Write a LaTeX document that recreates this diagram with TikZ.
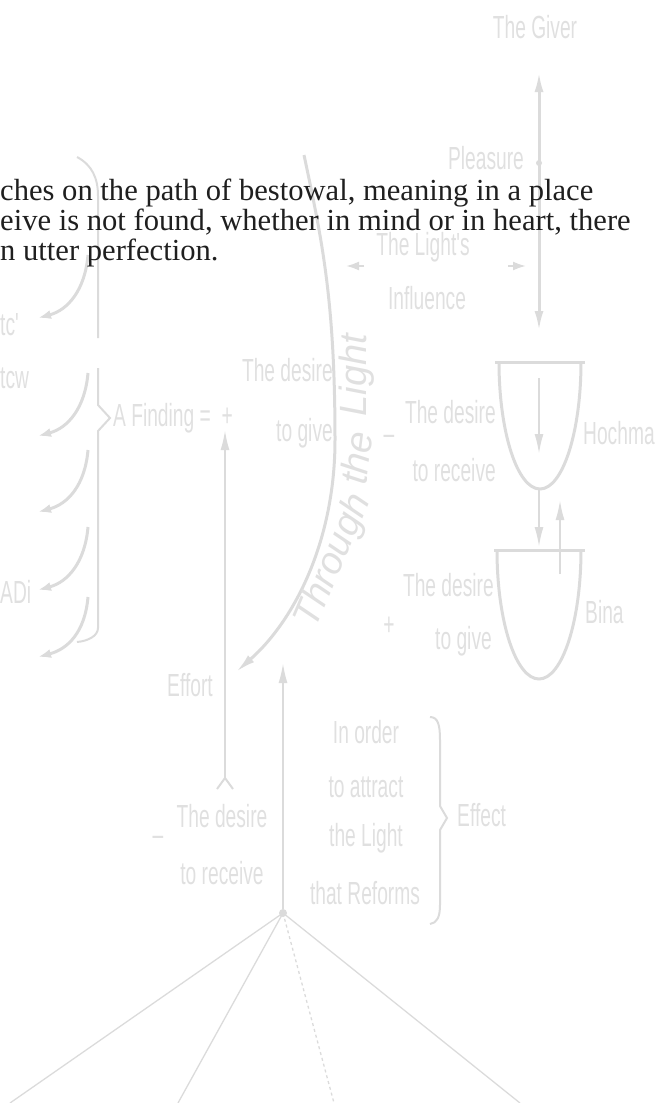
\documentclass[tikz,border=0pt]{standalone}
\usepackage{fontspec}
\newfontfamily\narrowsf[FakeStretch=0.6]{Liberation Sans}
\newfontfamily\plainsf{Liberation Sans}
\newfontfamily\bookfont{Liberation Serif}
\usetikzlibrary{arrows.meta}
\definecolor{faintline}{gray}{0.86}
\definecolor{fainttext}{gray}{0.88}

\begin{document}
\begin{tikzpicture}[x=1pt,y=-1pt,>={Latex[length=20pt,width=9pt]}]

    \tikzset{
      label/.style={
        text=fainttext,
        font=\narrowsf\fontsize{32}{32}\selectfont,
        inner sep=0pt,
      },
      slanted/.style={
        text=fainttext,
        font=\plainsf\itshape\fontsize{38}{38}\selectfont,
        inner sep=0pt,
      },
      para/.style={
        text=black!88,
        font=\bookfont\fontsize{30.6}{31}\selectfont,
        inner sep=0pt,
        anchor=base west,
      },
      bold line/.style={color=faintline,line width=3pt},
      mid line/.style={color=faintline,line width=2pt},
      thin line/.style={color=faintline,line width=1.3pt},
      small tip/.style={>={Latex[length=13pt,width=9pt]}},
      dot/.style={circle,fill=faintline,inner sep=0pt,minimum size=6pt},
    }

	\useasboundingbox (0,0) rectangle (663,1103);

	% the giver and the light coming down
	\node[label] (giver) at (535,27) {The Giver};
	\coordinate (colTop) at (539,72);
	\coordinate (colBot) at (539,331);
	\draw[bold line,<->] (colBot) -- (colTop);
	\node[label] (pleasure) at (486,158) {Pleasure};
	\node[dot] (pdot) at (539,163) {};

	\node[label] (lights) at (423,247) {The Light's};
	\node[label] (influence) at (427,298) {Influence};
	\coordinate (infLs) at (364,266);
	\coordinate (infL) at (346,266);
	\coordinate (infRs) at (508,266);
	\coordinate (infR) at (526,266);
	\draw[mid line,small tip,->] (infLs) -- (infL);
	\draw[mid line,small tip,->] (infRs) -- (infR);

	% hochma
	\draw[bold line] (495,362) -- (585,362);
	\draw[bold line] (499,362) arc[start angle=180,end angle=0,x radius=41,y radius=127];
	\node[label,anchor=east] (recvA) at (496,412) {The desire};
	\node[label,anchor=east] (recvB) at (496,470) {to receive};
	\node[label] (minusA) at (389,440) {–};
	\node[label,anchor=west] (hochma) at (583,433) {Hochma};
	\coordinate (inA) at (539,378);
	\coordinate (inB) at (539,454);
	\draw[mid line,->] (inA) -- (inB);

	% bina
	\draw[bold line] (494,550) -- (585,550);
	\draw[bold line] (497,550) arc[start angle=180,end angle=0,x radius=42,y radius=129];
	\node[label,anchor=east] (giveA) at (494,585) {The desire};
	\node[label,anchor=east] (giveB) at (492,641) {to give};
	\node[label] (plusA) at (389,626) {+};
	\node[label,anchor=west] (bina) at (585,612) {Bina};
	\coordinate (downA) at (539,490);
	\coordinate (downB) at (539,547);
	\coordinate (upA) at (560,574);
	\coordinate (upB) at (560,500);
	\draw[mid line,->] (downA) -- (downB);
	\draw[mid line,->] (upA) -- (upB);

	% through the light
	\coordinate (lightTop) at (304,155);
	\coordinate (lightMid) at (335,440);
	\coordinate (effortTip) at (236,672);
	\draw[bold line,->] (lightTop) .. controls (322,240) and (335,300) .. (lightMid)
	   .. controls (335,540) and (295,620) .. (effortTip);
	\node[slanted,rotate=67] (through) at (334,561) {Through};
	\node[slanted,rotate=83] (the) at (356,458) {the};
	\node[slanted,rotate=90] (light) at (357,375) {Light};

	\node[label,anchor=east] (midA) at (333,370) {The desire};
	\node[label,anchor=east] (midB) at (333,433) {to give};
	\node[label,anchor=west] (finding) at (113,418) {A Finding =\ \ +};
	\node[label] (effort) at (190,685) {Effort};

	% effort and effect
	\coordinate (effortBase) at (225,778);
	\coordinate (effortHead) at (225,430);
	\coordinate (baseL) at (217,789);
	\coordinate (baseR) at (233,789);
	\draw[mid line,->] (effortBase) -- (effortHead);
	\draw[mid line] (baseL) -- (effortBase) -- (baseR);
	\node[label] (recvC) at (222,816) {The desire};
	\node[label] (recvD) at (222,873) {to receive};
	\node[label] (minusB) at (158,841) {–};

	\node[dot,minimum size=8pt] (root) at (283,913) {};
	\coordinate (effectTip) at (283,663);
	\draw[mid line,->] (root) -- (effectTip);
	\coordinate (leafA) at (10,1103);
	\coordinate (leafB) at (178,1103);
	\coordinate (leafC) at (334,1103);
	\coordinate (leafD) at (520,1103);
	\foreach \leaf in {leafA,leafB,leafD}
	    \draw[thin line] (root.center) -- (\leaf);
	\draw[thin line,dashed] (root.center) -- (leafC);

	\node[label] (orderA) at (366,732) {In order};
	\node[label] (orderB) at (366,787) {to attract};
	\node[label] (orderC) at (366,838) {the Light};
	\node[label] (orderD) at (365,893) {that Reforms};
	\draw[mid line] (430,717) .. controls (438,717) and (440,725) .. (440,740) -- (440,806)
	   -- (447,818) -- (440,830) -- (440,905) .. controls (440,917) and (437,923) .. (430,924);
	\node[label,anchor=west] (effect) at (457,815) {Effect};

	% left side
	\draw[mid line] (77,157) .. controls (92,165) and (98,178) .. (98,196) -- (98,338);
	\draw[mid line] (98,368) -- (98,405) -- (110,418) -- (98,431) -- (98,628)
	   .. controls (98,636) and (88,641) .. (77,642);
	\foreach \ys/\ye [count=\i] in {255/318,373/436,450/512,527/590,597/657}{
	    \coordinate (from\i) at (88,\ys);
	    \coordinate (to\i) at (38,\ye);
	    \draw[bold line,small tip,->] (from\i) .. controls (85,\ys+35) and (68,\ye-8) .. (to\i);
	}
	\node[label,anchor=west] (leftA) at (0,325) {tc'};
	\node[label,anchor=west] (leftB) at (0,378) {tcw};
	\node[label,anchor=west] (leftC) at (0,592) {ADi};

	% the text over it
	\node[para] (lineA) at (0,200) {ches on the path of bestowal, meaning in a place};
	\node[para] (lineB) at (0,230) {eive is not found, whether in mind or in heart, there};
	\node[para] (lineC) at (0,260) {n utter perfection.};

\end{tikzpicture}
\end{document}
